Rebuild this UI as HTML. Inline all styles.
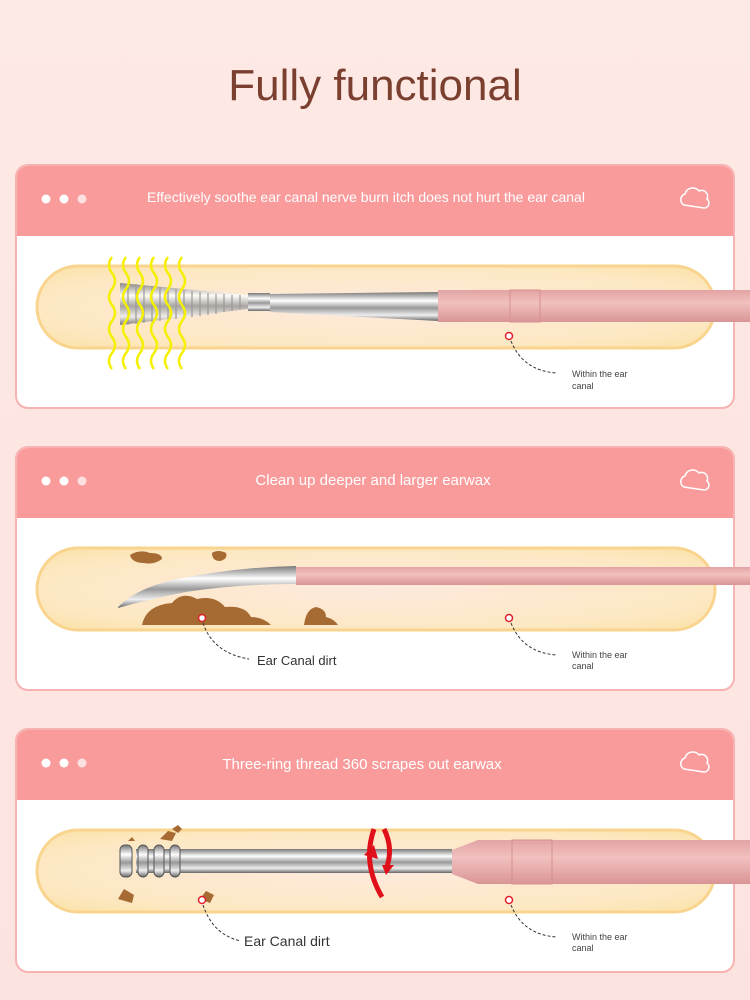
<!DOCTYPE html>
<html><head><meta charset="utf-8"><style>
body{margin:0;background:#fde8e4}
svg{display:block}
text{font-family:"Liberation Sans",sans-serif}
</style></head><body>
<svg width="750" height="1000" viewBox="0 0 750 1000" xmlns="http://www.w3.org/2000/svg">
<defs>
<linearGradient id="bg" x1="0" y1="0" x2="0" y2="1"><stop offset="0" stop-color="#fde9e5"/><stop offset="1" stop-color="#fde3df"/></linearGradient>
<radialGradient id="pill" cx="0.5" cy="0.5" r="0.7"><stop offset="0" stop-color="#fde9dd"/><stop offset="0.7" stop-color="#fde8c4"/><stop offset="1" stop-color="#fbe2a8"/></radialGradient>
<linearGradient id="metal" x1="0" y1="0" x2="0" y2="1"><stop offset="0" stop-color="#777"/><stop offset="0.3" stop-color="#fff"/><stop offset="0.55" stop-color="#999"/><stop offset="0.8" stop-color="#eee"/><stop offset="1" stop-color="#666"/></linearGradient>
<linearGradient id="handle" x1="0" y1="0" x2="0" y2="1"><stop offset="0" stop-color="#e2a3a3"/><stop offset="0.4" stop-color="#f1c0bf"/><stop offset="1" stop-color="#d99595"/></linearGradient>
<g id="card">
<rect x="16" y="0" width="718" height="243" rx="12" fill="#fff" stroke="#f6b3b1" stroke-width="2"/>
<path d="M17 12 a11 11 0 0 1 11 -11 h694 a11 11 0 0 1 11 11 v59 h-716z" fill="#f99b9b"/>
<circle cx="46" cy="34" r="4.5" fill="#fff"/><circle cx="64" cy="34" r="4.5" fill="#fff"/><circle cx="82" cy="34" r="4.5" fill="#fde0e0"/>
<path d="M684 40 a6 6 0 0 1 1 -11 a8 8 0 0 1 14 -3 a6 6 0 0 1 8 8 a5 5 0 0 1 -3 9 z" fill="none" stroke="#fff" stroke-width="1.5"/>
<rect x="37" y="101" width="678" height="82" rx="41" fill="url(#pill)" stroke="#f9d48e" stroke-width="3"/>
</g>
</defs>
<rect width="750" height="1000" fill="url(#bg)"/>
<text x="375" y="100" font-size="44" fill="#7a3f2f" text-anchor="middle">Fully functional</text>

<!-- card 1 -->
<g transform="translate(0,165)">
<use href="#card"/>
<text x="366" y="37" font-size="14" fill="#fff" text-anchor="middle">Effectively soothe ear canal nerve burn itch does not hurt the ear canal</text>
<rect x="438" y="125" width="312" height="32" fill="url(#handle)"/>
<rect x="510" y="125" width="30" height="32" fill="none" stroke="#d58f8f" stroke-width="1"/>
<path d="M270 129 L438 127 L438 156 L270 147z" fill="url(#metal)"/>
<rect x="248" y="128" width="22" height="18" fill="url(#metal)"/>
<path d="M120 118 L248 130 L248 144 L120 160z" fill="url(#metal)" opacity="0.85"/>
<g stroke="#999" stroke-width="1.2">
<path d="M128 118v42M136 119v40M144 120v38M152 121v36M160 122v34M168 123v32M176 124v30M184 125v28M192 126v26M200 127v24M208 128v22M216 129v20M224 129v18M232 130v16M240 130v14"/>
</g>
<g fill="none" stroke="#f4f000" stroke-width="2.5">
<path id="w" d="M112 92 q-6 8 0 16 q6 8 0 16 q-6 8 0 16 q6 8 0 16 q-6 8 0 16 q6 8 0 16 q-6 8 0 16"/>
<use href="#w" x="14"/><use href="#w" x="28"/><use href="#w" x="42"/><use href="#w" x="56"/><use href="#w" x="70"/>
</g>
<circle cx="509" cy="171" r="3.5" fill="#fff" stroke="#e0202a" stroke-width="1.5"/>
<path d="M511 176 q12 30 46 32" fill="none" stroke="#333" stroke-width="1" stroke-dasharray="3 2"/>
<text x="572" y="212" font-size="9" fill="#444">Within the ear</text>
<text x="572" y="224" font-size="9" fill="#444">canal</text>
</g>

<!-- card 2 -->
<g transform="translate(0,447)">
<use href="#card"/>
<text x="373" y="38" font-size="15" fill="#fff" text-anchor="middle">Clean up deeper and larger earwax</text>
<rect x="296" y="120" width="454" height="18" fill="url(#handle)"/>
<path d="M118 160 q20 -20 60 -28 q60 -12 118 -13 v18 q-60 0 -110 8 q-40 8 -68 16z" fill="url(#metal)"/>
<g fill="#a66a33">
<path d="M142 178 q4 -20 30 -22 q10 -12 25 -4 q18 -4 28 8 q20 -2 26 10 q12 0 20 8z"/>
<path d="M304 178 q2 -16 12 -18 q10 2 10 10 q8 2 12 8z"/>
<path d="M130 108 q10 -6 20 -2 q12 0 12 6 q-8 6 -18 4 q-12 0 -14 -8z"/>
<path d="M212 106 q6 -4 14 0 q2 6 -6 8 q-8 0 -8 -8z"/>
</g>
<circle cx="202" cy="171" r="3.5" fill="#fff" stroke="#e0202a" stroke-width="1.5"/>
<path d="M203 176 q10 30 46 36" fill="none" stroke="#333" stroke-width="1" stroke-dasharray="3 2"/>
<text x="257" y="218" font-size="13" fill="#333">Ear Canal dirt</text>
<circle cx="509" cy="171" r="3.5" fill="#fff" stroke="#e0202a" stroke-width="1.5"/>
<path d="M511 176 q12 30 46 32" fill="none" stroke="#333" stroke-width="1" stroke-dasharray="3 2"/>
<text x="572" y="211" font-size="9" fill="#444">Within the ear</text>
<text x="572" y="222" font-size="9" fill="#444">canal</text>
</g>

<!-- card 3 -->
<g transform="translate(0,729)">
<use href="#card"/>
<text x="362" y="40" font-size="15" fill="#fff" text-anchor="middle">Three-ring thread 360 scrapes out earwax</text>
<path d="M452 121 L478 111 H750 V155 H478 L452 145z" fill="url(#handle)"/>
<rect x="512" y="111" width="40" height="44" fill="none" stroke="#d58f8f" stroke-width="1"/>
<rect x="136" y="120" width="316" height="24" fill="url(#metal)"/>
<g fill="url(#metal)" stroke="#555" stroke-width="1">
<rect x="120" y="116" width="12" height="32" rx="5"/><rect x="138" y="116" width="10" height="32" rx="5"/><rect x="154" y="116" width="10" height="32" rx="5"/><rect x="170" y="116" width="10" height="32" rx="5"/>
</g>
<g fill="#a66a33">
<path d="M160 110 l8 -8 l8 2 l-4 8z"/><path d="M172 100 l6 -4 l4 4 l-4 4z"/><path d="M118 170 l6 -10 l10 6 l-2 8z"/><path d="M200 170 l6 -8 l8 4 l-4 8z"/><path d="M128 112 l4 -4 l3 4z"/>
</g>
<path d="M374 100 q-12 34 8 68" fill="none" stroke="#e0101a" stroke-width="5"/>
<path d="M384 100 q10 20 2 40" fill="none" stroke="#e0101a" stroke-width="5"/>
<path d="M364 126 l10 -10 l4 14z M386 146 l8 -10 l-12 0z" fill="#e0101a"/>
<circle cx="202" cy="171" r="3.5" fill="#fff" stroke="#e0202a" stroke-width="1.5"/>
<path d="M203 176 q10 30 38 36" fill="none" stroke="#333" stroke-width="1" stroke-dasharray="3 2"/>
<text x="244" y="217" font-size="14" fill="#333">Ear Canal dirt</text>
<circle cx="509" cy="171" r="3.5" fill="#fff" stroke="#e0202a" stroke-width="1.5"/>
<path d="M511 176 q12 30 46 32" fill="none" stroke="#333" stroke-width="1" stroke-dasharray="3 2"/>
<text x="572" y="211" font-size="9" fill="#444">Within the ear</text>
<text x="572" y="222" font-size="9" fill="#444">canal</text>
</g>
</svg>
</body></html>
